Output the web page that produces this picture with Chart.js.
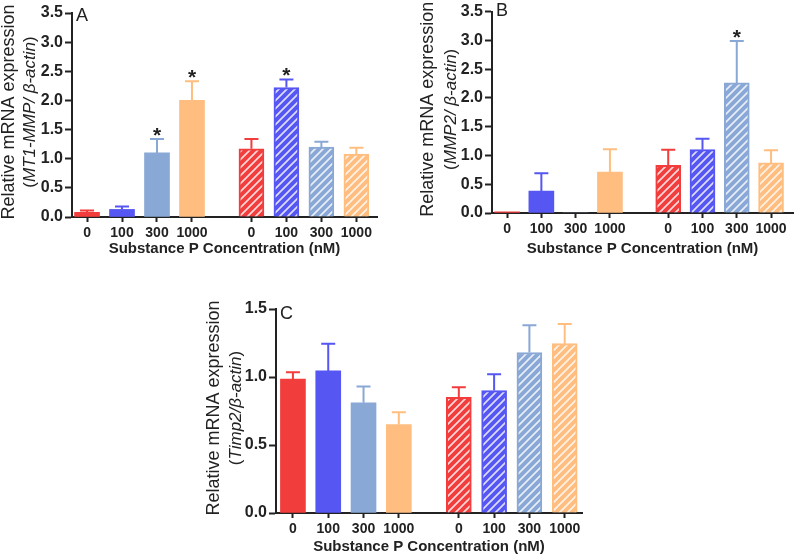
<!DOCTYPE html>
<html>
<head>
<meta charset="utf-8">
<script src="https://cdn.jsdelivr.net/npm/chart.js@4.4.1/dist/chart.umd.min.js"></script>
<style>
  body { margin: 0; background: #fff; width: 800px; height: 556px; position: relative; overflow: hidden; }
  canvas { position: absolute; }
</style>
</head>
<body>
<canvas id="chartA" width="395" height="262" style="left:0px;top:0px"></canvas>
<canvas id="chartB" width="400" height="262" style="left:400px;top:0px"></canvas>
<canvas id="chartC" width="400" height="266" style="left:190px;top:290px"></canvas>
<script>
'use strict';

// Substance P concentration (nM), first group solid, second group hatched
var concentrations = ['0', '100', '300', '1000', '0', '100', '300', '1000'];

// A: MT1-MMP / beta-actin
var mt1Values = [0.08, 0.13, 1.10, 2.00, 1.17, 2.22, 1.20, 1.08];
var mt1Errors = [0.03, 0.05, 0.24, 0.33, 0.17, 0.14, 0.09, 0.11];
var mt1Signif = [false, false, true, true, false, true, false, false];

// B: MMP2 / beta-actin
var mmp2Values = [0.02, 0.38, 0.00, 0.71, 0.83, 1.10, 2.26, 0.87];
var mmp2Errors = [0.00, 0.31, 0.00, 0.40, 0.27, 0.19, 0.73, 0.22];
var mmp2Signif = [false, false, false, false, false, false, true, false];

// C: Timp2 / beta-actin
var timp2Values = [0.985, 1.045, 0.81, 0.65, 0.85, 0.90, 1.18, 1.245];
var timp2Errors = [0.05, 0.20, 0.12, 0.09, 0.075, 0.12, 0.20, 0.145];
var timp2Signif = [false, false, false, false, false, false, false, false];

var yTicksAB = [0, 0.5, 1.0, 1.5, 2.0, 2.5, 3.0, 3.5];
var yTicksC = [0, 0.5, 1.0, 1.5];

var groupColors = ['#f23d3d', '#5656f2', '#8aa8d6', '#ffbe80'];

var FONT = "'Liberation Sans', Arial, sans-serif";
var INK = '#222';
var GROUP_GAP = 0.7;

function xPos(i) {
  return i + (i >= 4 ? GROUP_GAP : 0);
}

function hatch(color) {
  var n = 8;
  var c = document.createElement('canvas');
  c.width = n;
  c.height = n;
  var g = c.getContext('2d');
  g.fillStyle = color;
  g.fillRect(0, 0, n, n);
  g.strokeStyle = 'rgba(255,255,255,0.8)';
  g.lineWidth = 1.7;
  g.beginPath();
  g.moveTo(-1, n + 1); g.lineTo(n + 1, -1);
  g.moveTo(-1, 1); g.lineTo(1, -1);
  g.moveTo(n - 1, n + 1); g.lineTo(n + 1, n - 1);
  g.stroke();
  return g.createPattern(c, 'repeat');
}

// error bars (upper only) and asterisks
var errorBars = {
  id: 'errorBars',
  afterDatasetsDraw: function(chart) {
    var ctx = chart.ctx;
    var ds = chart.data.datasets[0];
    var y = chart.scales.y;
    chart.getDatasetMeta(0).data.forEach(function(bar, i) {
      var top = y.getPixelForValue(ds.values[i] + ds.errors[i]);
      var col = groupColors[i % 4];
      ctx.save();
      if (ds.errors[i] > 0) {
        ctx.strokeStyle = col;
        ctx.lineWidth = 2;
        ctx.beginPath();
        ctx.moveTo(bar.x, bar.y);
        ctx.lineTo(bar.x, top);
        ctx.moveTo(bar.x - 7, top);
        ctx.lineTo(bar.x + 7, top);
        ctx.stroke();
      }
      if (ds.signif[i]) {
        ctx.fillStyle = INK;
        ctx.font = 'bold 21px ' + FONT;
        ctx.textAlign = 'center';
        ctx.textBaseline = 'alphabetic';
        ctx.fillText('*', bar.x, top + 3);
      }
      ctx.restore();
    });
  }
};

// two-line y title with italic gene name, plus panel letter
var panelText = {
  id: 'panelText',
  afterDraw: function(chart, args, o) {
    var ctx = chart.ctx;
    var a = chart.chartArea;
    var cy = (a.top + a.bottom) / 2 - 3;
    ctx.save();
    ctx.fillStyle = INK;
    ctx.textBaseline = 'middle';

    ctx.save();
    ctx.translate(a.left + o.line1, cy);
    ctx.rotate(-Math.PI / 2);
    ctx.font = '18px ' + FONT;
    ctx.textAlign = 'center';
    ctx.fillText('Relative mRNA expression', 0, 0);
    ctx.restore();

    ctx.save();
    ctx.translate(a.left + o.line2, cy);
    ctx.rotate(-Math.PI / 2);
    var parts = [['(', false], [o.gene, true], [')', false]];
    var total = 0;
    parts.forEach(function(p) {
      ctx.font = (p[1] ? 'italic ' : '') + '17px ' + FONT;
      p.push(ctx.measureText(p[0]).width);
      total += p[2];
    });
    var x = -total / 2;
    ctx.textAlign = 'left';
    parts.forEach(function(p) {
      ctx.font = (p[1] ? 'italic ' : '') + '17px ' + FONT;
      ctx.fillText(p[0], x, 0);
      x += p[2];
    });
    ctx.restore();

    ctx.font = '18px ' + FONT;
    ctx.textAlign = 'left';
    ctx.fillText(o.letter, a.left + 4, o.letterY);
    ctx.restore();
  }
};

function makePanel(id, p) {
  var bg = [], bw = [];
  concentrations.forEach(function(c, i) {
    bg.push(i < 4 ? groupColors[i] : hatch(groupColors[i % 4]));
    bw.push(i < 4 ? 0 : 2);
  });
  return new Chart(document.getElementById(id), {
    type: 'bar',
    data: {
      datasets: [{
        data: p.values.map(function(v, i) { return { x: xPos(i), y: v }; }),
        values: p.values,
        errors: p.errors,
        signif: p.signif,
        backgroundColor: bg,
        borderColor: groupColors.concat(groupColors),
        borderWidth: bw,
        borderSkipped: 'bottom',
        barThickness: 25
      }]
    },
    options: {
      responsive: false,
      animation: false,
      events: [],
      layout: { padding: { top: p.padTop, right: p.padRight, bottom: 0, left: 0 } },
      plugins: {
        legend: { display: false },
        tooltip: { enabled: false },
        panelText: { gene: p.gene, letter: p.letter, letterY: p.letterY, line1: p.line1, line2: p.line2 }
      },
      scales: {
        x: {
          type: 'linear',
          min: p.xMin,
          max: p.xMax,
          offset: false,
          afterBuildTicks: function(s) {
            s.ticks = concentrations.map(function(c, i) { return { value: xPos(i) }; });
          },
          afterFit: function(s) { s.height = p.xAxisHeight; },
          ticks: {
            callback: function(v, i) { return concentrations[i]; },
            font: { family: FONT, size: 14, weight: 'bold' },
            color: INK,
            padding: 3,
            maxRotation: 0,
            autoSkip: false
          },
          grid: { offset: false, drawOnChartArea: false, drawTicks: true, tickLength: 5, tickWidth: 2, tickColor: INK },
          border: { color: INK, width: 2 },
          title: {
            display: true,
            text: 'Substance P Concentration (nM)',
            font: { family: FONT, size: 15, weight: 'bold' },
            color: INK,
            padding: { top: 0, bottom: p.xTitlePad }
          }
        },
        y: {
          min: 0,
          max: p.yTicks[p.yTicks.length - 1],
          afterBuildTicks: function(s) {
            s.ticks = p.yTicks.map(function(v) { return { value: v }; });
          },
          afterFit: function(s) { s.width = p.yAxisWidth; },
          ticks: {
            callback: function(v) { return v.toFixed(1); },
            font: { family: FONT, size: 16, weight: 'bold' },
            color: INK,
            padding: 2
          },
          grid: { drawOnChartArea: false, drawTicks: true, tickLength: 7, tickWidth: 2, tickColor: INK },
          border: { color: INK, width: 2 }
        }
      }
    },
    plugins: [errorBars, panelText]
  });
}

makePanel('chartA', {
  values: mt1Values, errors: mt1Errors, signif: mt1Signif, yTicks: yTicksAB,
  gene: 'MT1-MMP/ \u03b2-actin', letter: 'A', letterY: 16, line1: -63, line2: -42,
  xMin: -0.43, xMax: 8.29, padTop: 13, padRight: 18, yAxisWidth: 72, xAxisHeight: 45, xTitlePad: 4
});

makePanel('chartB', {
  values: mmp2Values, errors: mmp2Errors, signif: mmp2Signif, yTicks: yTicksAB,
  gene: 'MMP2/ \u03b2-actin', letter: 'B', letterY: 11, line1: -64, line2: -41,
  xMin: -0.44, xMax: 8.34, padTop: 10, padRight: 7, yAxisWidth: 92, xAxisHeight: 49, xTitlePad: 4
});

makePanel('chartC', {
  values: timp2Values, errors: timp2Errors, signif: timp2Signif, yTicks: yTicksC,
  gene: 'Timp2/\u03b2-actin', letter: 'C', letterY: 24, line1: -62, line2: -40,
  xMin: -0.48, xMax: 8.19, padTop: 19, padRight: 8, yAxisWidth: 86, xAxisHeight: 43, xTitlePad: 0
});
</script>
</body>
</html>
